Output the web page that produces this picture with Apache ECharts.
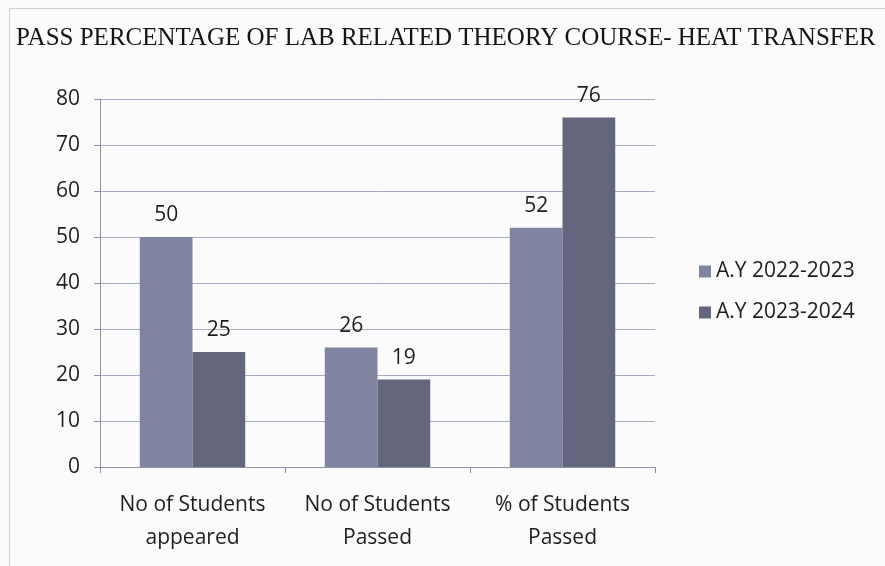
<!DOCTYPE html>
<html>
<head>
<meta charset="utf-8">
<script src="https://cdn.jsdelivr.net/npm/echarts@6/dist/echarts.min.js"></script>
<style>
  html, body { margin: 0; padding: 0; background: #fbfbfb; }
  #chart { width: 885px; height: 566px; }
</style>
</head>
<body>
<div id="chart"></div>
<script>
(function () {
    // data
    var categories = ["No of Students\nappeared", "No of Students\nPassed", "% of Students\nPassed"];
    var seriesNames = ["A.Y 2022-2023", "A.Y 2023-2024"];
    var values2223 = [50, 26, 52];
    var values2324 = [25, 19, 76];

    var myChart = echarts.init(document.getElementById("chart"));

    var labelStyle = {
        show: true,
        position: "top",
        distance: 11,
        fontSize: 21,
        fontFamily: "Open Sans",
        color: "#1e1e1e"
    };

    var option = {
        backgroundColor: "#fbfbfb",
        title: {
            text: "PASS PERCENTAGE OF LAB RELATED THEORY COURSE- HEAT TRANSFER",
            left: 11,
            top: 21,
            textStyle: {
                fontFamily: "Liberation Serif",
                fontWeight: "normal",
                fontSize: 25,
                color: "#141414"
            }
        },
        legend: {
            orient: "vertical",
            left: 694,
            top: 256,
            itemWidth: 12,
            itemHeight: 12,
            itemGap: 20,
            icon: "rect",
            textStyle: {
                fontFamily: "Open Sans",
                fontSize: 21,
                color: "#1e1e1e"
            },
            data: seriesNames
        },
        grid: {
            left: 100,
            right: 230,
            top: 99,
            bottom: 99,
            containLabel: false
        },
        xAxis: {
            type: "category",
            data: categories,
            axisLine: { lineStyle: { color: "#8f93a8", width: 1 } },
            axisTick: { show: true, length: 6, lineStyle: { color: "#8f93a8" } },
            axisLabel: {
                interval: 0,
                margin: 22,
                fontSize: 21,
                lineHeight: 33,
                fontFamily: "Open Sans",
                color: "#1e1e1e"
            }
        },
        yAxis: {
            type: "value",
            min: 0,
            max: 80,
            interval: 10,
            axisLine: { show: true, lineStyle: { color: "#8f93a8" } },
            axisTick: { show: true, length: 6, lineStyle: { color: "#8f93a8" } },
            axisLabel: {
                margin: 20,
                fontSize: 21,
                fontFamily: "Open Sans",
                color: "#1e1e1e"
            },
            splitLine: { lineStyle: { color: "#a9acc0", width: 1 } }
        },
        series: [{
            name: seriesNames[0],
            type: "bar",
            data: values2223,
            barGap: "0%",
            barCategoryGap: "43%",
            itemStyle: { color: "#8084a0" },
            label: labelStyle
        }, {
            name: seriesNames[1],
            type: "bar",
            data: values2324,
            itemStyle: { color: "#63667d" },
            label: labelStyle
        }],
        graphic: [{
            type: "rect",
            left: 7,
            top: 6,
            shape: { width: 900, height: 600 },
            style: { fill: "none", stroke: "#cfcfd4", lineWidth: 1 },
            silent: true
        }]
    };
    myChart.setOption(option);
})();
</script>
</body>
</html>
